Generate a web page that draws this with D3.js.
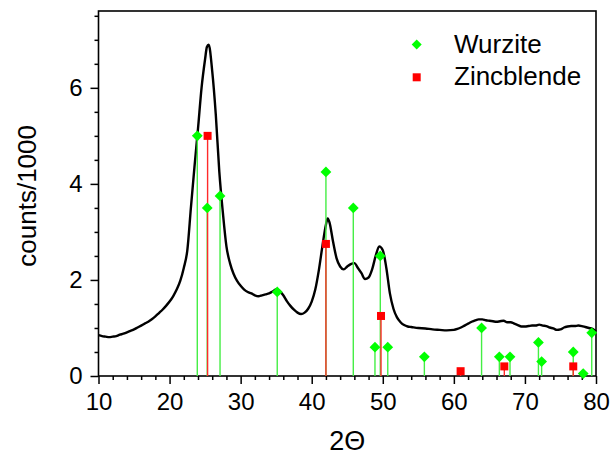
<!DOCTYPE html>
<html>
<head>
<meta charset="utf-8">
<script src="https://cdn.jsdelivr.net/npm/d3@7"></script>
<style>
  html, body { margin: 0; padding: 0; background: #fff; }
  svg { display: block; font-family: "Liberation Sans", Arial, sans-serif; }
</style>
</head>
<body>
<svg id="chart" width="610" height="459"></svg>
<script>
// ---- data ----
const twoTheta = [10,10.5,11,11.5,12,12.5,13,13.5,14,14.5,15,15.5,16,16.5,17,17.5,18,18.5,19,19.5,
  20,20.5,21,21.5,22,22.5,23,23.5,24,24.5,25,25.25,25.5,26,26.5,27,27.5,28,28.5,29,29.5,
  30,30.5,31,31.5,32,32.5,33,33.5,34,34.5,35,35.5,36,36.5,37,37.5,38,38.5,39,39.5,
  40,40.5,41,41.5,42,42.25,42.5,43,43.5,44,44.5,45,45.5,46,46.5,47,47.5,48,48.5,49,49.5,
  50,50.5,51,51.5,52,52.5,53,53.5,54,55,56,57,58,59,60,60.5,61,61.5,62,62.5,63,63.5,64,64.5,
  65,65.5,66,66.5,67,67.5,68,68.5,69,69.5,70,70.5,71,71.5,72,72.5,73,73.5,74,74.5,75,75.5,
  76,76.5,77,77.5,78,78.5,79,79.5,80];
const counts = [0.85,0.83,0.82,0.81,0.82,0.83,0.86,0.88,0.91,0.94,0.97,1.01,1.05,1.09,1.13,1.18,1.24,1.31,1.38,1.46,
  1.55,1.66,1.80,1.98,2.25,2.62,3.50,4.35,5.15,6.00,6.60,6.85,6.90,6.35,5.45,4.25,3.40,2.70,2.35,2.13,1.98,
  1.88,1.80,1.75,1.72,1.68,1.66,1.68,1.70,1.72,1.76,1.80,1.77,1.68,1.56,1.46,1.38,1.32,1.29,1.32,1.40,
  1.55,1.80,2.20,2.70,3.15,3.28,3.20,2.80,2.45,2.28,2.22,2.28,2.33,2.35,2.25,2.14,2.02,2.05,2.22,2.50,2.70,
  2.62,2.25,1.72,1.40,1.22,1.12,1.06,1.03,1.02,1.00,0.99,0.97,0.96,0.95,0.96,0.98,1.01,1.05,1.09,1.13,1.16,1.18,1.18,1.16,
  1.15,1.14,1.13,1.14,1.15,1.12,1.12,1.09,1.06,1.03,1.03,1.04,1.05,1.05,1.07,1.05,1.04,1.01,0.99,0.96,0.97,1.01,
  1.03,1.04,1.04,1.05,1.04,1.02,1.00,0.98,0.93];

const wurziteTheta = [23.9, 25.3, 27.1, 35.15, 42.0, 45.85, 48.9, 49.65, 50.7, 55.85, 63.9, 66.4, 67.9, 71.9, 72.35, 76.8, 78.2, 79.4];
const wurziteInt   = [5.0, 3.5, 3.75, 1.75, 4.25, 3.5, 0.6, 2.5, 0.6, 0.4, 1.0, 0.4, 0.4, 0.7, 0.3, 0.5, 0.05, 0.9];
const zincTheta = [25.35, 42.0, 49.75, 60.95, 67.1, 76.8];
const zincInt   = [5.0, 2.75, 1.25, 0.1, 0.2, 0.2];

const xMajorTicks = [10, 20, 30, 40, 50, 60, 70, 80];
const yMajorTicks = [0, 2, 4, 6];
const legendLabels = ["Wurzite", "Zincblende"];
const xTitle = "2\u0398";
const yTitle = "counts/1000";

// ---- layout ----
const svg = d3.select("#chart");
const L = 98.5, R = 596, T = 11, B = 376;
const x = d3.scaleLinear().domain([10, 80]).range([L, R]);
const y = d3.scaleLinear().domain([0, 7.6]).range([B, T]);

const greenMark = "#00ff00", redMark = "#ff0000";
const greenStem = "#44ee44", redStem = "#ff2a2a";

// minor ticks
const xMinor = d3.range(10, 80.01, 2).filter(v => v % 10 !== 0);
const yMinor = d3.range(0, 7.51, 0.5).filter(v => v % 2 !== 0);

const gx = svg.append("g").attr("transform", `translate(0,${B})`);
gx.call(d3.axisBottom(x).tickValues(xMinor).tickSize(4).tickFormat(""));
gx.call(g => g.select(".domain").remove());
const gx2 = svg.append("g").attr("transform", `translate(0,${B})`);
gx2.call(d3.axisBottom(x).tickValues(xMajorTicks).tickSize(8).tickPadding(9).tickFormat(d3.format("d")));
gx2.select(".domain").remove();
gx2.selectAll("text").attr("font-size", 24).attr("fill", "#000").attr("font-family", "Liberation Sans, Arial, sans-serif");

const gy = svg.append("g").attr("transform", `translate(${L},0)`);
gy.call(d3.axisLeft(y).tickValues(yMinor).tickSize(4).tickFormat(""));
gy.select(".domain").remove();
const gy2 = svg.append("g").attr("transform", `translate(${L},0)`);
gy2.call(d3.axisLeft(y).tickValues(yMajorTicks).tickSize(8).tickPadding(8).tickFormat(d3.format("d")));
gy2.select(".domain").remove();
gy2.selectAll("text").attr("font-size", 24).attr("fill", "#000").attr("font-family", "Liberation Sans, Arial, sans-serif");

svg.selectAll(".tick line").attr("stroke", "#000").attr("stroke-width", 1.5);

// frame
svg.append("rect").attr("x", L).attr("y", T).attr("width", R - L).attr("height", B - T)
  .attr("fill", "none").attr("stroke", "#000").attr("stroke-width", 1.6);

// curve
const pts = twoTheta.map((t, i) => [t, counts[i]]);
svg.append("path").datum(pts)
  .attr("fill", "none").attr("stroke", "#000").attr("stroke-width", 2.4).attr("stroke-linejoin", "round")
  .attr("d", d3.line().x(d => x(d[0])).y(d => y(d[1])).curve(d3.curveMonotoneX));

// stems
const wz = wurziteTheta.map((t, i) => ({t, v: wurziteInt[i]}));
const zb = zincTheta.map((t, i) => ({t, v: zincInt[i]}));
svg.append("g").selectAll("line").data(wz).join("line")
  .attr("x1", d => x(d.t)).attr("x2", d => x(d.t)).attr("y1", y(0)).attr("y2", d => y(d.v))
  .attr("stroke", greenStem).attr("stroke-width", 1.4);
svg.append("g").selectAll("line").data(zb).join("line")
  .attr("x1", d => x(d.t)).attr("x2", d => x(d.t)).attr("y1", y(0)).attr("y2", d => y(d.v))
  .attr("stroke", redStem).attr("stroke-width", 1.4);

// markers
const dh = 5.4; // diamond half diagonal
const diamond = (cx, cy, h) => `M${cx},${cy - h}L${cx + h},${cy}L${cx},${cy + h}L${cx - h},${cy}Z`;
svg.append("g").selectAll("path").data(wz).join("path")
  .attr("d", d => diamond(x(d.t), y(d.v), dh)).attr("fill", greenMark);
const sq = 8;
svg.append("g").selectAll("rect").data(zb).join("rect")
  .attr("x", d => x(d.t) - sq / 2).attr("y", d => y(d.v) - sq / 2)
  .attr("width", sq).attr("height", sq).attr("fill", redMark);

// legend
const lg = svg.append("g");
lg.append("path").attr("d", diamond(416.7, 44.5, 5)).attr("fill", greenMark);
lg.append("rect").attr("x", 412.7).attr("y", 73.3).attr("width", 8).attr("height", 8).attr("fill", redMark);
lg.selectAll("text").data(legendLabels).join("text")
  .attr("x", 454).attr("y", (d, i) => 53.3 + i * 32)
  .attr("font-size", 26).attr("fill", "#000").text(d => d);

// axis titles
svg.append("text").attr("x", x(45)).attr("y", 450).attr("text-anchor", "middle")
  .attr("font-size", 27).attr("fill", "#000").text(xTitle);
svg.append("text").attr("transform", `translate(36,${(121.7 + 270) / 2}) rotate(-90)`)
  .attr("text-anchor", "middle").attr("font-size", 26).attr("fill", "#000").text(yTitle);
</script>
</body>
</html>
